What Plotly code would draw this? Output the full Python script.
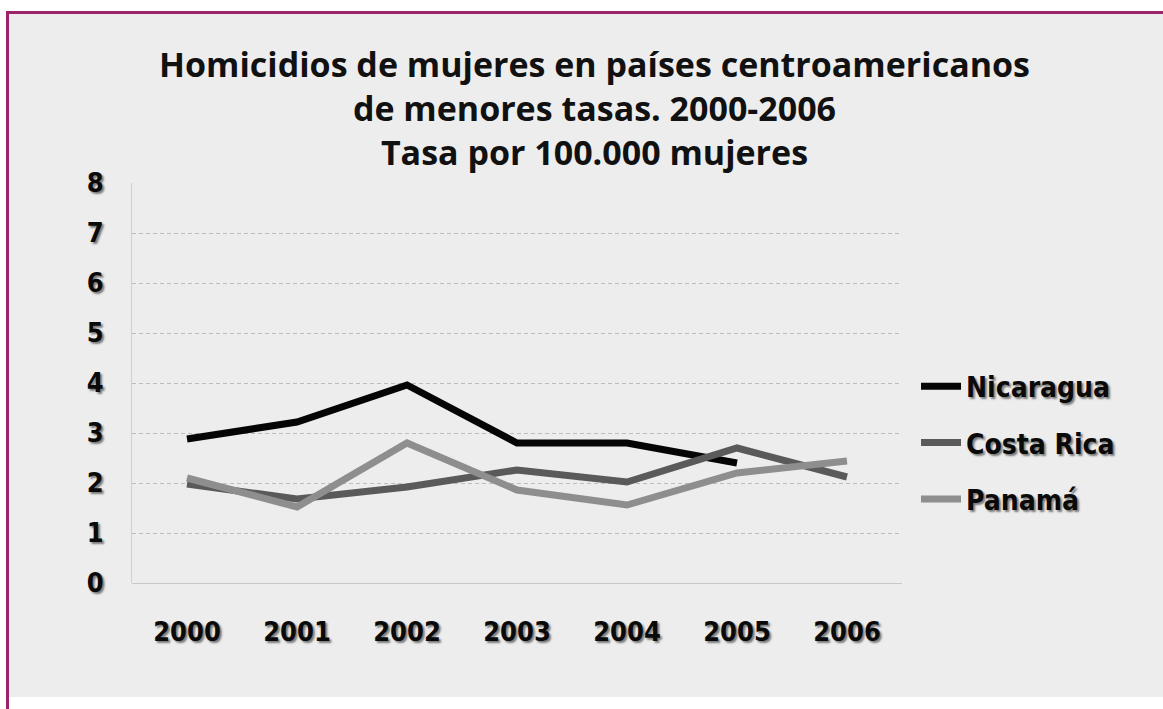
import plotly.graph_objects as go

years = ["2000", "2001", "2002", "2003", "2004", "2005", "2006"]
nicaragua = [2.88, 3.22, 3.96, 2.80, 2.80, 2.40, None]
costa_rica = [1.98, 1.68, 1.92, 2.26, 2.02, 2.70, 2.12]
panama = [2.10, 1.52, 2.80, 1.86, 1.56, 2.20, 2.44]
y_ticks = [0, 1, 2, 3, 4, 5, 6, 7, 8]
title_lines = ["Homicidios de mujeres en países centroamericanos",
               "de menores tasas. 2000-2006",
               "Tasa por 100.000 mujeres"]

series = [
    ("Nicaragua", nicaragua, "#050505"),
    ("Costa Rica", costa_rica, "#5a5a5a"),
    ("Panamá", panama, "#8e8e8e"),
]

W, H = 1163, 709
L, R, T, B = 132, 261, 183, 126
pw, ph = W - L - R, H - T - B

def px_x(x):
    return (x - L) / pw

def px_y(y):
    return (H - B - y) / ph

shadow = "2px 2px 2px #7a7a7a"
label_font = dict(family="DejaVu Sans Condensed, DejaVu Sans", size=27, color="#0a0a0a",
                  weight="bold", shadow=shadow)

fig = go.Figure()
for name, vals, col in series:
    fig.add_trace(go.Scatter(
        x=years, y=vals, name=name, mode="lines",
        line=dict(color=col, width=7, shape="linear"),
        legendgroup=name, connectgaps=False,
    ))

shapes = [
    dict(type="rect", xref="paper", yref="paper", x0=px_x(0), x1=px_x(W), y0=px_y(0), y1=px_y(12),
         fillcolor="white", line_width=0, layer="below"),
    dict(type="rect", xref="paper", yref="paper", x0=px_x(0), x1=px_x(W), y0=px_y(697), y1=px_y(H),
         fillcolor="white", line_width=0, layer="below"),
    dict(type="rect", xref="paper", yref="paper", x0=px_x(0), x1=px_x(6), y0=px_y(0), y1=px_y(H),
         fillcolor="white", line_width=0, layer="below"),
    dict(type="line", xref="paper", yref="paper", x0=px_x(6), x1=px_x(W), y0=px_y(12.5), y1=px_y(12.5),
         line=dict(color="#9c2468", width=3)),
    dict(type="line", xref="paper", yref="paper", x0=px_x(7.5), x1=px_x(7.5), y0=px_y(11), y1=px_y(H),
         line=dict(color="#9c2468", width=3)),
]

fig.add_annotation(
    text="<br>".join(title_lines), showarrow=False,
    xref="paper", yref="paper", x=px_x(594), y=px_y(108),
    xanchor="center", yanchor="middle", align="center",
    font=dict(family="Open Sans", size=34, color="#111111", weight="bold"),
)

fig.update_layout(
    width=W, height=H,
    margin=dict(l=L, r=R, t=T, b=B),
    paper_bgcolor="#ededed",
    plot_bgcolor="rgba(0,0,0,0)",
    shapes=shapes,
    showlegend=True,
    legend=dict(
        x=px_x(916), y=px_y(443), xanchor="left", yanchor="middle",
        font=dict(family="DejaVu Sans Condensed, DejaVu Sans", size=28, color="#0a0a0a",
                  weight="bold", shadow=shadow),
        bgcolor="rgba(0,0,0,0)", tracegroupgap=17, itemwidth=40,
    ),
    xaxis=dict(
        type="category", range=[-0.5, 6.5], showgrid=False, zeroline=False, showline=False,
        ticks="", ticklabelstandoff=30, tickfont=label_font,
    ),
    yaxis=dict(
        range=[0, 8], tickvals=y_ticks, ticktext=[str(v) for v in y_ticks],
        showgrid=True, gridcolor="#bdbdbd", gridwidth=1, griddash="4px,3px",
        zeroline=True, zerolinecolor="#c8c8c8", zerolinewidth=1,
        showline=True, linecolor="#d0d0d0", linewidth=1,
        ticks="", ticklabelstandoff=22, tickfont=label_font,
    ),
)

fig.write_html("out.html", config={"displayModeBar": False},
               post_script="document.body.style.margin='0';")
